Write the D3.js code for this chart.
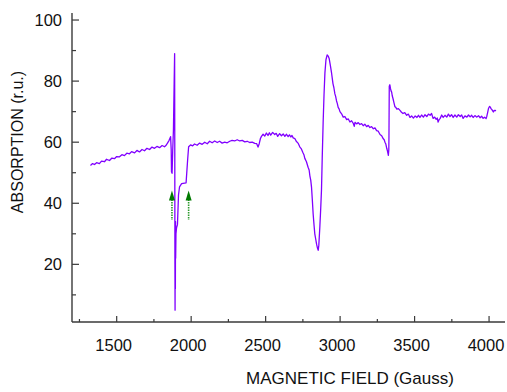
<!DOCTYPE html>
<html><head><meta charset="utf-8">
<script src="https://cdn.jsdelivr.net/npm/d3@7"></script>
<style>body{margin:0;background:#fff}svg{display:block}text{font-family:"Liberation Sans",Arial,sans-serif;fill:#111}</style>
</head><body>
<svg id="c" width="507" height="392"></svg>
<script>
const fieldG = [1324,1338,1351,1365,1384,1398,1418,1432,1452,1468,1485,1500,1519,1535,1552,1568,1586,1600,1620,1636,1653,1670,1687,1703,1721,1737,1754,1770,1788,1805,1821,1832,1842,1852,1862,1866,1868,1872,1876,1881,1886,1889,1890,1891,1892,1893,1894,1895,1896,1898,1902,1908,1915,1922,1936,1966,1976,1983,1996,
2010,2023,2040,2057,2074,2091,2108,2124,2141,2158,2175,2191,2208,2225,2242,2259,2275,2292,2309,2326,2343,2360,2376,2393,2410,2427,2440,2449,2457,2465,2472,2483,2494,2505,2516,2525,2534,2547,2561,2571,2581,2594,2606,2618,2629,2640,2651,2660,2669,2677,2685,2696,2707,2719,2730,2740,2750,2757,2763,2774,2785,2792,2797,2803,2808,2813,2819,2825,2830,2836,2842,2848,2853,2857,2864,2870,2875,2880,2886,2892,2898,2905,2913,2920,2927,2935,2943,2952,2958,2965,2970,2976,2981,2987,2993,2999,3010,3021,3032,3044,3055,3066,3077,3088,3095,3100,3111,3122,3133,3144,3155,3166,3178,3189,3200,3211,3223,3234,3245,3256,3268,3279,3290,3296,3301,3307,3313,3318,3324,3327,3328,3330,3334,3338,3342,3346,3350,3355,3361,3368,3374,3381,3391,3402,3412,3422,3434,3447,3458,3469,3480,3492,3504,3516,3526,3536,3547,3559,3570,3582,3593,3604,3614,3624,3635,3645,3652,3658,3665,3672,3682,3692,3704,3716,3727,3738,3748,3759,3771,3783,3794,3806,3816,3826,3838,3851,3862,3873,3883,3893,3905,3918,3929,3940,3950,3960,3970,3980,3985,3990,3996,4003,4008,4014,4020,4029,4035,4041,4047];
const absorption = [52.4,53.0,52.7,53.3,53.0,53.8,53.6,54.4,54.0,54.8,54.6,55.3,55.2,55.9,55.6,56.4,56.2,56.9,56.5,57.3,56.8,57.6,57.2,58.0,57.6,58.4,58.0,58.6,58.2,58.9,58.5,59.0,59.8,60.6,61.8,57.5,50.3,49.8,57,64,80,89,60,20,5,30,12,34,22,30,32,33,42.7,45.4,46.4,46.7,54,58.5,59.1,
58.8,59.4,59.0,59.7,59.3,60.0,59.5,60.3,59.8,60.4,59.9,60.3,59.7,60.0,59.8,60.3,60.6,60.4,60.8,60.4,60.6,60.1,60.3,59.9,60.0,59.6,59.5,58.4,59.5,61.2,61.9,62.6,62.0,63.0,62.2,63.1,62.3,63.2,62.5,62.9,61.9,62.8,62.1,62.7,61.9,62.6,61.8,62.4,61.7,62.2,61.4,61.2,60.2,59.6,58.4,57.8,56.6,55.9,54.7,53.6,51.8,50.9,49.0,47.5,45.3,41.5,36.5,32.8,30.0,28.3,26.6,25.3,24.6,26.2,32.3,38.5,44.4,55.0,66.3,75.5,82.7,87.0,88.6,88.2,87.3,85.0,82.5,79.2,77.9,75.8,75.0,73.5,72.7,71.4,70.9,70.0,69.3,68.2,68.4,67.4,67.6,66.6,67.0,66.2,65.2,66.5,66.0,66.4,65.8,66.1,65.4,65.9,65.1,65.5,64.8,65.1,64.4,64.7,63.8,63.6,62.5,62.1,61.1,60.8,60.0,59.4,58.0,57.1,55.7,57.5,62,78.3,78.8,77.6,76.8,76.4,75.2,74.3,73.0,71.6,71.4,70.8,71.0,70.4,69.8,69.4,69.7,68.8,69.2,68.1,68.6,67.9,68.6,68.1,68.8,68.1,68.9,68.2,69.0,68.4,69.2,68.8,69.4,67.8,68.2,67.5,67.9,66.6,67.4,67.8,68.9,68.1,68.8,68.2,69.2,68.4,69.0,68.1,68.9,68.2,69.0,68.4,68.9,67.8,68.6,68.2,68.9,68.3,68.8,68.1,68.7,68.2,68.7,68.0,68.5,67.8,68.2,67.7,68.5,69.6,71.0,71.7,71.5,70.9,70.6,69.9,70.4,70.3,70.4];
const xTicks = [1500,2000,2500,3000,3500,4000];
const xMinor = [1250,1750,2250,2750,3250,3750];
const yTicks = [20,40,60,80,100];
const yMinor = [10,30,50,70,90];
const arrowsG = [1871,1983];
const arrowTip = 44.2, arrowTail = 34.5;

const svg = d3.select("#c");
const x = d3.scaleLinear().domain([1200,4107]).range([72,505]);
const y = d3.scaleLinear().domain([1.12,102.3]).range([322,13]);
const axisCol = "#3a3a3a";

svg.append("line").attr("x1",72).attr("x2",72).attr("y1",y(102.3)).attr("y2",322).attr("stroke",axisCol).attr("stroke-width",1.4);
svg.append("line").attr("x1",72).attr("x2",505).attr("y1",322).attr("y2",322).attr("stroke",axisCol).attr("stroke-width",1.4);

yTicks.forEach(v=>{
  svg.append("line").attr("x1",72).attr("x2",79).attr("y1",y(v)).attr("y2",y(v)).attr("stroke",axisCol).attr("stroke-width",1.2);
  svg.append("text").attr("x",62).attr("y",y(v)).attr("dy","0.36em").attr("text-anchor","end").attr("font-size",16.5).text(v);
});
yMinor.forEach(v=>{
  svg.append("line").attr("x1",72).attr("x2",76).attr("y1",y(v)).attr("y2",y(v)).attr("stroke",axisCol).attr("stroke-width",1.2);
});
xTicks.forEach(v=>{
  svg.append("line").attr("x1",x(v)).attr("x2",x(v)).attr("y1",322).attr("y2",316).attr("stroke",axisCol).attr("stroke-width",1.2);
  svg.append("text").attr("x",x(v)-3).attr("y",351).attr("text-anchor","middle").attr("font-size",16.5).text(v);
});
xMinor.forEach(v=>{
  svg.append("line").attr("x1",x(v)).attr("x2",x(v)).attr("y1",322).attr("y2",319).attr("stroke",axisCol).attr("stroke-width",1.2);
});

svg.append("text").attr("x",350).attr("y",384).attr("text-anchor","middle").attr("font-size",17).text("MAGNETIC FIELD (Gauss)");
svg.append("text").attr("transform","translate(23,142) rotate(-90)").attr("text-anchor","middle").attr("font-size",16).text("ABSORPTION (r.u.)");

const pts = fieldG.map((g,i)=>[g,absorption[i]]);
svg.append("path").datum(pts)
  .attr("d", d3.line().x(d=>x(d[0])).y(d=>y(d[1])))
  .attr("fill","none").attr("stroke","#8000ff").attr("stroke-width",1.3).attr("stroke-linejoin","round");

arrowsG.forEach(g=>{
  const cx = x(g), yt = y(arrowTip), yb = y(arrowTail);
  svg.append("line").attr("x1",cx).attr("x2",cx).attr("y1",yt+9).attr("y2",yb)
    .attr("stroke","#2e9a2e").attr("stroke-width",1.6).attr("stroke-dasharray","1.5,1");
  svg.append("path").attr("d",`M${cx},${yt} L${cx-3},${yt+10} L${cx+3},${yt+10} Z`).attr("fill","#007a00");
});
</script>
</body></html>
